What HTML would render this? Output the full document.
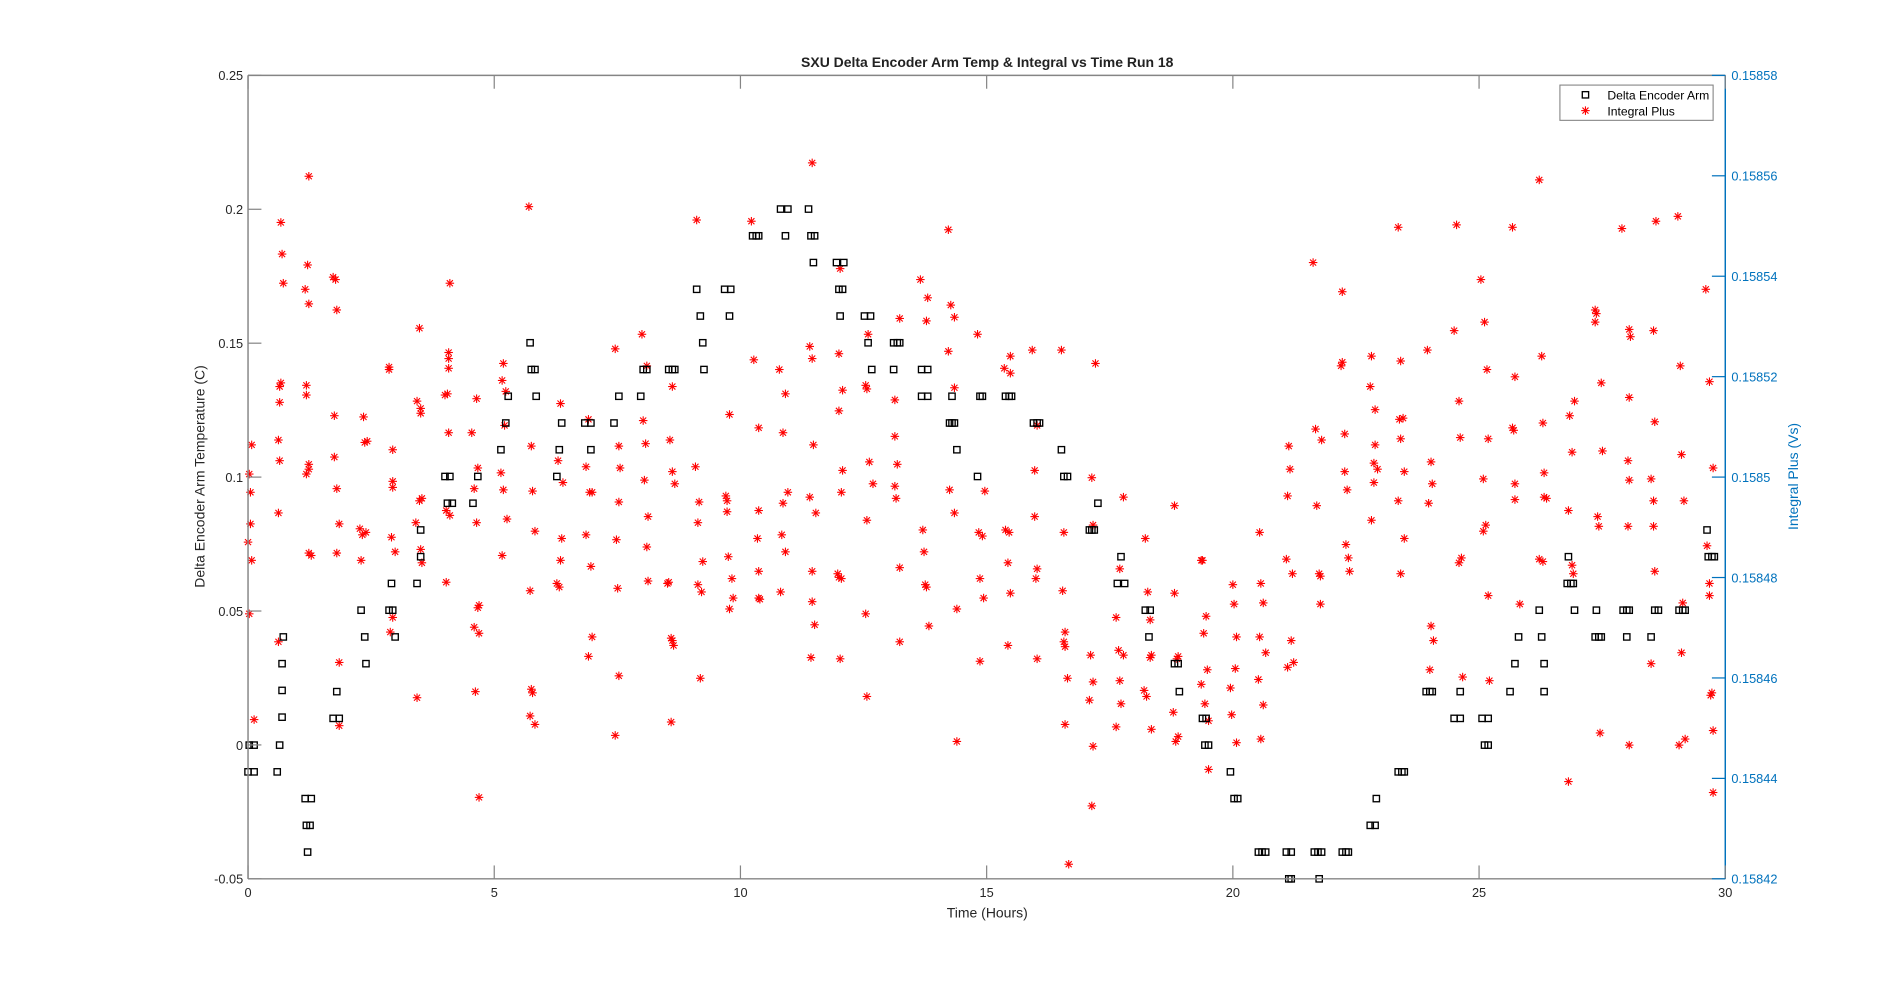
<!DOCTYPE html>
<html><head><meta charset="utf-8"><style>
html,body{margin:0;padding:0;background:#fff;width:1904px;height:987px;overflow:hidden}
svg{display:block;font-family:"Liberation Sans",Arial,sans-serif}
</style></head><body>
<svg id="c" width="1904" height="987" viewBox="0 0 1566 812" preserveAspectRatio="none" xmlns="http://www.w3.org/2000/svg">
<defs>
<g id="st" stroke="#ff0000" stroke-width="0.9"><line x1="-3.5" y1="0" x2="3.5" y2="0"/><line x1="0" y1="-3.5" x2="0" y2="3.5"/><line x1="-2.5" y1="-2.5" x2="2.5" y2="2.5"/><line x1="-2.5" y1="2.5" x2="2.5" y2="-2.5"/></g>
<rect id="sq" x="-2.6" y="-2.6" width="5.2" height="5.2" fill="none" stroke="#000" stroke-width="1.1"/>
</defs>
<rect x="204" y="62" width="1215" height="661" fill="#fff"/>
<g id="data"></g>
<g stroke="#858585" stroke-width="1.2" fill="none">
<line x1="204" y1="62" x2="1419" y2="62"/>
<line x1="204" y1="723" x2="1419" y2="723"/>
<line x1="204" y1="62" x2="204" y2="723"/>
</g>
<line x1="1419" y1="62" x2="1419" y2="723" stroke="#0072BD" stroke-width="1.2"/>
<g id="ticks"></g>
<text x="812" y="55" text-anchor="middle" font-size="11.5" font-weight="bold" fill="#222">SXU Delta Encoder Arm Temp &amp; Integral vs Time Run 18</text>
<text x="812" y="755" text-anchor="middle" font-size="11.5" fill="#262626">Time (Hours)</text>
<text transform="translate(168,392) rotate(-90)" text-anchor="middle" font-size="11.5" fill="#262626">Delta Encoder Arm Temperature (C)</text>
<text transform="translate(1479,392) rotate(-90)" text-anchor="middle" font-size="11.5" fill="#0072BD">Integral Plus (Vs)</text>
<rect x="1283" y="70" width="126" height="29" fill="#fff" stroke="#858585" stroke-width="0.9"/>
<use href="#sq" x="1304" y="78"/>
<use href="#st" x="1304" y="91"/>
<text x="1322" y="82" font-size="10" fill="#000">Delta Encoder Arm</text>
<text x="1322" y="95" font-size="10" fill="#000">Integral Plus</text>
</svg>
<script>
var NS="http://www.w3.org/2000/svg";
var T=document.getElementById("ticks"),D=document.getElementById("data");
function el(n,a,p,t){var e=document.createElementNS(NS,n);for(var k in a)e.setAttribute(k,a[k]);if(t!=null)e.textContent=t;p.appendChild(e);return e;}
for(var k=0;k<=6;k++){var x=204+k*202.5;
 el("line",{x1:x,y1:62,x2:x,y2:73,stroke:"#858585","stroke-width":1},T);
 el("line",{x1:x,y1:723,x2:x,y2:712,stroke:"#858585","stroke-width":1},T);
 el("text",{x:x,y:738,"text-anchor":"middle","font-size":"10.5",fill:"#262626"},T,String(k*5));}
var yl=["0.25","0.2","0.15","0.1","0.05","0","-0.05"];
for(var k=0;k<=6;k++){var y=62+k*110.17;
 el("line",{x1:204,y1:y,x2:215,y2:y,stroke:"#858585","stroke-width":1},T);
 el("text",{x:200,y:y+4,"text-anchor":"end","font-size":"10.5",fill:"#262626"},T,yl[k]);}
var rl=["0.15858","0.15856","0.15854","0.15852","0.1585","0.15848","0.15846","0.15844","0.15842"];
for(var k=0;k<=8;k++){var y=62+k*82.625;
 el("line",{x1:1419,y1:y,x2:1408,y2:y,stroke:"#0072BD","stroke-width":1},T);
 el("text",{x:1424,y:y+4,"font-size":"10.5",fill:"#0072BD"},T,rl[k]);}
var S=[205,390,204,446,207,366,206,431,206,405,205,505,207,461,209,592,231,183,232,209,233,233,230,318,230,331,229,362,230,379,229,422,229,528,231,315,254,145,251,238,253,218,254,250,252,317,252,325,254,386,252,390,254,455,256,457,254,382,274,228,276,230,277,255,275,376,277,402,279,431,275,342,279,545,279,597,277,455,299,343,300,364,302,363,296,435,298,440,297,461,301,438,320,302,320,304,323,370,323,401,323,396,322,442,325,454,321,520,323,508,345,270,343,330,346,340,346,336,347,410,345,412,346,452,347,463,343,574,342,430,369,290,369,295,368,324,369,356,369,303,367,420,370,233,370,424,367,479,366,325,388,356,392,328,393,385,390,402,392,430,390,516,394,521,394,498,393,500,391,569,394,656,414,299,413,313,416,322,414,403,417,427,413,457,415,350,412,389,435,170,437,367,438,404,440,437,436,486,438,570,437,567,436,589,440,596,461,332,459,379,463,397,462,443,461,461,458,480,460,483,484,345,482,384,485,405,487,405,482,440,486,466,487,524,484,540,506,287,509,367,510,385,509,413,507,444,508,484,509,556,506,605,528,275,532,301,529,346,531,365,530,395,533,425,532,450,533,478,552,525,553,318,551,362,553,388,555,398,549,480,550,479,553,527,554,531,552,594,573,181,572,384,575,413,574,430,578,462,577,487,576,558,574,481,600,341,597,408,598,412,598,421,599,458,602,476,603,492,600,501,618,182,620,296,624,352,624,420,623,443,624,470,625,493,624,492,641,304,646,324,644,356,644,414,648,405,643,440,642,487,646,454,668,134,666,285,668,295,669,366,666,409,671,422,668,470,668,495,670,514,667,541,691,221,690,291,693,321,690,338,692,405,693,387,689,472,692,476,691,542,690,475,714,275,712,317,713,320,715,380,718,398,713,428,713,573,712,505,736,329,740,262,736,359,738,382,736,400,740,467,737,410,740,528,757,230,763,245,762,264,759,436,760,454,764,515,761,481,762,483,780,189,782,251,785,261,780,289,785,319,781,403,785,422,787,501,787,610,804,275,805,438,808,441,806,476,809,492,806,544,810,404,826,303,831,293,831,307,827,436,830,438,829,463,831,488,829,531,849,288,853,350,851,387,851,425,853,468,852,476,853,542,873,288,875,438,874,486,875,528,876,532,878,558,876,596,879,711,876,520,901,299,898,393,899,432,897,539,899,561,896,576,899,614,898,663,924,409,921,468,918,508,920,535,921,560,922,579,918,598,924,539,942,443,944,487,946,510,946,541,947,539,943,573,947,600,941,568,966,416,966,488,968,542,969,540,965,586,969,606,967,610,988,461,989,461,992,507,990,521,993,551,988,563,994,593,994,633,991,579,1014,481,1015,497,1016,550,1012,566,1013,588,1017,611,1017,524,1036,438,1037,480,1039,496,1036,524,1041,537,1035,559,1039,580,1037,608,1060,367,1061,386,1059,408,1058,460,1063,472,1062,527,1059,549,1064,545,1080,216,1082,353,1087,362,1083,416,1085,472,1086,474,1086,497,1104,240,1104,298,1106,357,1106,388,1108,403,1107,448,1110,470,1109,459,1103,301,1128,293,1127,318,1131,337,1131,366,1130,381,1133,386,1128,428,1130,397,1150,187,1152,297,1151,345,1154,344,1152,361,1155,388,1150,412,1152,472,1155,443,1174,288,1177,380,1178,398,1175,414,1177,515,1179,527,1176,551,1198,185,1196,272,1200,330,1201,360,1200,463,1202,459,1203,557,1218,230,1221,265,1223,304,1224,361,1222,432,1220,437,1225,560,1224,490,1220,394,1244,187,1246,310,1244,352,1245,354,1246,398,1246,411,1250,497,1266,148,1268,293,1269,348,1270,389,1270,409,1272,410,1269,462,1266,460,1291,342,1293,372,1290,420,1293,465,1294,472,1290,643,1295,330,1312,255,1313,258,1317,315,1318,371,1314,425,1315,433,1316,603,1312,265,1334,188,1340,271,1341,277,1340,327,1339,379,1340,395,1339,433,1340,613,1362,182,1360,272,1361,347,1358,394,1360,412,1360,433,1361,470,1358,546,1380,178,1382,301,1383,374,1385,412,1384,496,1383,537,1381,613,1386,608,1403,238,1406,314,1409,385,1404,449,1406,480,1406,490,1407,572,1408,570,1409,601,1409,652];
var Q=[205,613,209,613,204,635,209,635,228,635,230,613,232,590,232,568,232,546,233,524,251,657,256,657,252,679,255,679,253,701,274,591,279,591,277,569,297,502,300,524,301,546,320,502,323,502,322,480,325,524,343,480,346,436,346,458,366,392,370,392,368,414,372,414,389,414,393,392,412,370,416,348,418,326,436,282,437,304,440,304,441,326,458,392,460,370,462,348,481,348,486,348,486,370,505,348,509,326,527,326,529,304,532,304,550,304,553,304,555,304,573,238,576,260,578,282,579,304,596,238,601,238,600,260,619,194,622,194,624,194,642,172,648,172,646,194,665,172,667,194,670,194,669,216,688,216,694,216,690,238,693,238,691,260,711,260,716,260,714,282,717,304,735,282,738,282,740,282,735,304,758,304,763,304,758,326,763,326,781,348,783,348,785,348,783,326,787,370,804,392,806,326,808,326,827,326,830,326,832,326,850,348,853,348,855,348,873,370,875,392,878,392,896,436,898,436,900,436,903,414,919,480,922,458,925,480,942,502,946,502,945,524,966,546,969,546,970,569,989,591,992,591,991,613,994,613,1012,635,1015,657,1018,657,1035,701,1038,701,1041,701,1058,701,1062,701,1062,723,1060,723,1081,701,1084,701,1087,701,1085,723,1104,701,1107,701,1109,701,1127,679,1131,679,1132,657,1150,635,1153,635,1155,635,1173,569,1176,569,1178,569,1196,591,1201,591,1201,569,1219,591,1224,591,1221,613,1224,613,1242,569,1246,546,1249,524,1266,502,1268,524,1270,546,1270,569,1289,480,1292,480,1294,480,1290,458,1295,502,1312,524,1315,524,1317,524,1313,502,1335,502,1338,502,1340,502,1338,524,1358,524,1361,502,1364,502,1381,502,1384,502,1386,502,1404,436,1405,458,1408,458,1410,458];
for(var i=0;i<S.length;i+=2)el("use",{href:"#st",x:S[i],y:S[i+1]},D);
for(var i=0;i<Q.length;i+=2)el("use",{href:"#sq",x:Q[i],y:Q[i+1]},D);
</script>
</body></html>
